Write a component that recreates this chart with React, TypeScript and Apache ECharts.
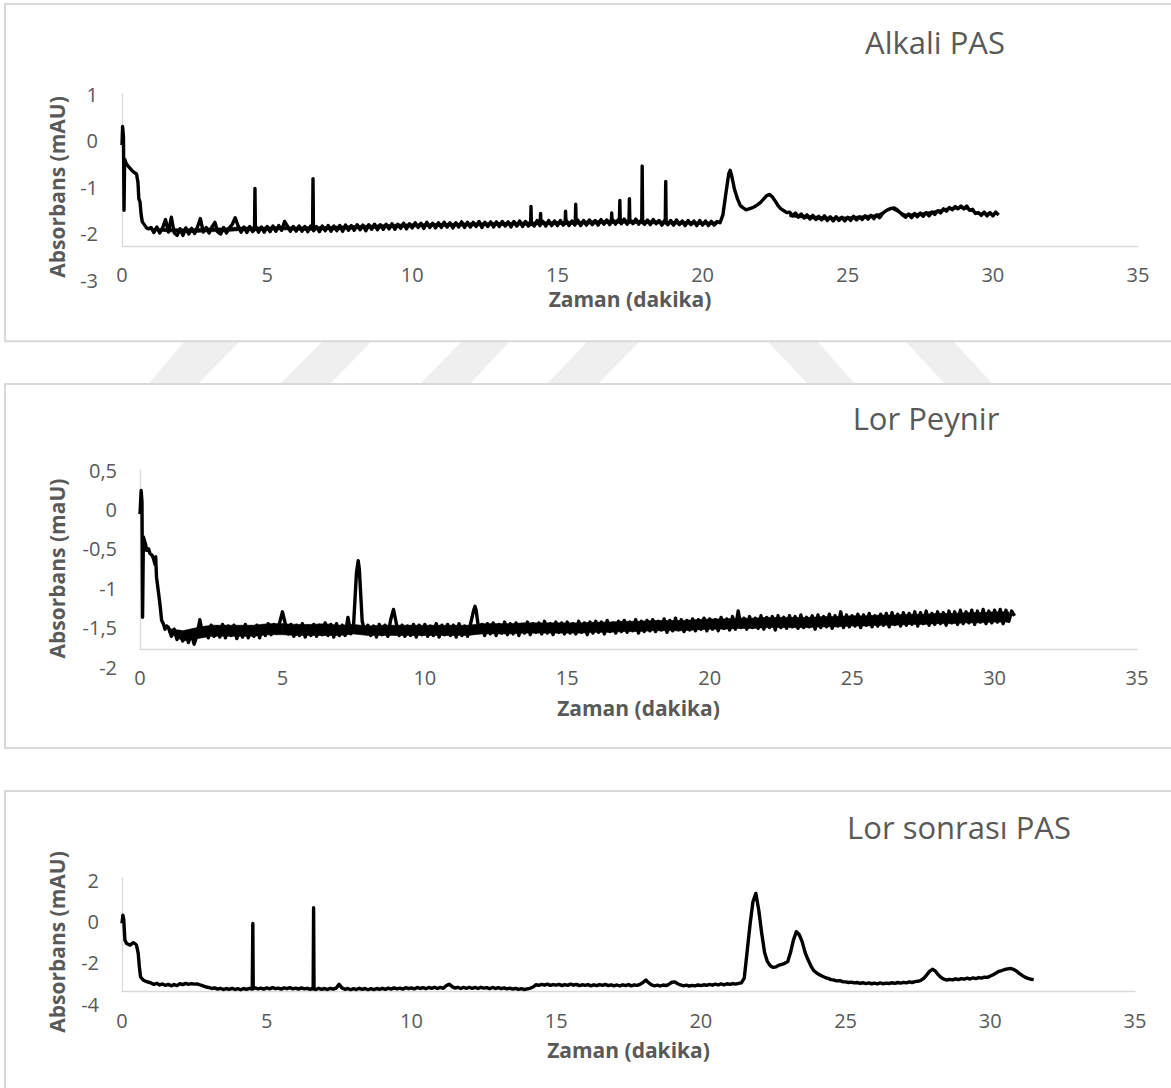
import React, { useEffect, useRef } from "react";
import * as echarts from "echarts";

const FONT = '"Open Sans", "DejaVu Sans", sans-serif';
const GRAY = "#595959";
const LINE_GRAY = "#d9d9d9";

// ---------- shared axis data ----------
const timeMin = 0;
const timeMax = 35;
const timeInterval = 5;
const sampleStep = 0.1; // min between regular samples
const baseStartTime = 1.0;
const bandStep = 0.5; // min between noise-envelope samples

const titles = ["Alkali PAS", "Lor Peynir", "Lor sonrası PAS"];
const xName = "Zaman (dakika)";
const yNames = ["Absorbans (mAU)", "Absorbans (maU)", "Absorbans (mAU)"];
const yMins = [-3, -2, -4];
const yMaxs = [1, 0.5, 2];
const yIntervals = [1, 0.5, 2];

// ---------- Alkali PAS ----------
const alkaliStart: [number, number][] = [
  [0, -0.1], [0.02, 0.3], [0.05, 0.1], [0.07, -1.5], [0.09, -0.4], [0.15, -0.5],
  [0.25, -0.58], [0.35, -0.65], [0.45, -0.7], [0.5, -0.72], [0.55, -0.9], [0.58, -1.25],
  [0.62, -1.32], [0.66, -1.6], [0.7, -1.75], [0.78, -1.82], [0.85, -1.88], [0.92, -1.9],
];
const alkaliBase: number[] = [
  -1.87, -1.98, -1.86, -1.99, -1.88, -1.70, -1.97, -1.65, -1.99, -2.04,
  -1.90, -2.04, -1.88, -2.01, -1.89, -2.00, -1.86, -1.68, -1.97, -1.87,
  -1.99, -1.86, -1.76, -1.97, -2.01, -1.87, -1.99, -1.88, -1.80, -1.66,
  -1.84, -1.97, -1.86, -1.98, -1.85, -1.96, -1.84, -1.97, -1.86, -1.97,
  -1.85, -1.96, -1.84, -1.95, -1.83, -1.93, -1.74, -1.84, -1.95, -1.85,
  -1.95, -1.84, -1.95, -1.85, -1.96, -1.84, -1.94, -1.85, -1.96, -1.84,
  -1.94, -1.83, -1.95, -1.84, -1.94, -1.83, -1.95, -1.82, -1.93, -1.83,
  -1.93, -1.81, -1.92, -1.82, -1.94, -1.81, -1.91, -1.80, -1.92, -1.81,
  -1.91, -1.80, -1.90, -1.79, -1.91, -1.80, -1.89, -1.78, -1.90, -1.79,
  -1.88, -1.77, -1.87, -1.78, -1.89, -1.76, -1.87, -1.78, -1.88, -1.77,
  -1.87, -1.76, -1.86, -1.77, -1.88, -1.77, -1.86, -1.75, -1.87, -1.76,
  -1.86, -1.76, -1.85, -1.74, -1.87, -1.76, -1.85, -1.75, -1.86, -1.75,
  -1.85, -1.74, -1.84, -1.75, -1.86, -1.74, -1.84, -1.73, -1.85, -1.74,
  -1.84, -1.73, -1.84, -1.72, -1.83, -1.74, -1.84, -1.72, -1.83, -1.73,
  -1.83, -1.72, -1.82, -1.71, -1.83, -1.73, -1.82, -1.71, -1.83, -1.72,
  -1.82, -1.71, -1.81, -1.72, -1.82, -1.70, -1.80, -1.71, -1.81, -1.70,
  -1.80, -1.70, -1.79, -1.69, -1.80, -1.71, -1.79, -1.69, -1.80, -1.70,
  -1.80, -1.71, -1.81, -1.70, -1.79, -1.72, -1.82, -1.71, -1.81, -1.72,
  -1.82, -1.71, -1.81, -1.73, -1.83, -1.72, -1.81, -1.73, -1.83, -1.72,
  -1.82, -1.73, -1.83, -1.74, -1.82, -1.74, -1.77, -1.60, -1.15, -0.72,
  -0.75, -1.05, -1.25, -1.40, -1.45, -1.49, -1.47, -1.45, -1.42, -1.38,
  -1.33, -1.26, -1.19, -1.16, -1.21, -1.30, -1.40, -1.47, -1.51, -1.55,
  -1.54, -1.62, -1.56, -1.65, -1.58, -1.67, -1.60, -1.69, -1.61, -1.70,
  -1.63, -1.71, -1.62, -1.72, -1.64, -1.73, -1.64, -1.72, -1.65, -1.73,
  -1.65, -1.72, -1.63, -1.71, -1.64, -1.70, -1.62, -1.69, -1.61, -1.68,
  -1.60, -1.66, -1.57, -1.52, -1.48, -1.46, -1.45, -1.49, -1.55, -1.61,
  -1.65, -1.58, -1.66, -1.57, -1.64, -1.56, -1.63, -1.55, -1.62, -1.54,
  -1.59, -1.51, -1.56, -1.47, -1.52, -1.44, -1.49, -1.42, -1.47, -1.41,
  -1.47, -1.41, -1.50, -1.48, -1.57, -1.55, -1.61, -1.54, -1.62, -1.55,
  -1.62, -1.54, -1.60,
];
const alkaliSpikes: [number, number][] = [
  [4.565, -1.91], [4.58, -1.03], [4.595, -1.9],
  [6.565, -1.9], [6.58, -0.82], [6.595, -1.9],
  [14.075, -1.8], [14.09, -1.42], [14.105, -1.79],
  [14.405, -1.79], [14.42, -1.57], [14.435, -1.78],
  [15.265, -1.78], [15.28, -1.52], [15.295, -1.78],
  [15.615, -1.78], [15.63, -1.37], [15.645, -1.77],
  [16.855, -1.76], [16.87, -1.56], [16.885, -1.75],
  [17.135, -1.75], [17.15, -1.29], [17.165, -1.74],
  [17.465, -1.74], [17.48, -1.25], [17.495, -1.74],
  [17.905, -1.76], [17.92, -0.55], [17.935, -1.76],
  [18.715, -1.77], [18.73, -0.88], [18.745, -1.77],
  [20.95, -0.64],
];
// noise band of the Alkali PAS baseline (every 0.5 min from 1.0; null = no band)
const alkaliBandLow: (number | null)[] = [
  -1.93, -1.96, -1.97, -1.98, -1.96, -1.96, -1.94, -1.94, -1.93, -1.92,
  -1.93, -1.93, -1.92, -1.92, -1.90, -1.89, -1.88, -1.87, -1.86, -1.85,
  -1.85, -1.84, -1.84, -1.83, -1.83, -1.82, -1.82, -1.81, -1.81, -1.80,
  -1.80, -1.79, -1.78, -1.78, -1.79, -1.79, -1.80, -1.80, -1.81, -1.81,
  null, null, null, null,
  -1.64, -1.67, -1.70, -1.71, -1.70, -1.68, -1.64, -1.48, -1.63, -1.62,
  -1.56, -1.49, -1.46, -1.59, -1.60,
];
const alkaliBandHigh: (number | null)[] = [
  -1.89, -1.89, -1.90, -1.90, -1.88, -1.88, -1.86, -1.86, -1.86, -1.85,
  -1.86, -1.85, -1.85, -1.84, -1.83, -1.82, -1.81, -1.80, -1.79, -1.79,
  -1.78, -1.78, -1.77, -1.77, -1.76, -1.76, -1.75, -1.75, -1.74, -1.74,
  -1.73, -1.72, -1.71, -1.71, -1.72, -1.73, -1.74, -1.74, -1.75, -1.75,
  null, null, null, null,
  -1.57, -1.60, -1.63, -1.65, -1.64, -1.62, -1.59, -1.45, -1.58, -1.56,
  -1.51, -1.44, -1.42, -1.55, -1.56,
];

// ---------- Lor Peynir ----------
const lorStart: [number, number][] = [
  [0, -0.06], [0.04, 0.24], [0.07, 0.1], [0.09, -1.37], [0.12, -0.35], [0.2, -0.45],
  [0.23, -0.52], [0.3, -0.5], [0.35, -0.56], [0.42, -0.58], [0.47, -0.62], [0.53, -0.7],
  [0.55, -0.6], [0.58, -0.86], [0.64, -1.03], [0.7, -1.2], [0.76, -1.41], [0.82, -1.45],
  [0.88, -1.52], [0.94, -1.48],
];
const lorBase: number[] = [
  -1.50, -1.61, -1.52, -1.65, -1.55, -1.67, -1.56, -1.69, -1.58, -1.71,
  -1.60, -1.40, -1.58, -1.50, -1.63, -1.47, -1.61, -1.49, -1.62, -1.46,
  -1.63, -1.48, -1.60, -1.47, -1.64, -1.50, -1.62, -1.46, -1.63, -1.49,
  -1.61, -1.47, -1.63, -1.48, -1.60, -1.45, -1.59, -1.46, -1.57, -1.44,
  -1.30, -1.45, -1.58, -1.46, -1.61, -1.47, -1.60, -1.45, -1.62, -1.48,
  -1.60, -1.46, -1.61, -1.47, -1.59, -1.44, -1.60, -1.46, -1.62, -1.45,
  -1.60, -1.47, -1.60, -1.37, -1.58, -1.45, -0.80, -0.76, -1.42, -1.56,
  -1.47, -1.60, -1.48, -1.62, -1.46, -1.59, -1.47, -1.61, -1.40, -1.27,
  -1.45, -1.60, -1.47, -1.61, -1.48, -1.60, -1.46, -1.62, -1.47, -1.59,
  -1.46, -1.61, -1.48, -1.60, -1.45, -1.62, -1.47, -1.59, -1.46, -1.60,
  -1.47, -1.62, -1.45, -1.60, -1.48, -1.61, -1.46, -1.30, -1.28, -1.55,
  -1.46, -1.60, -1.45, -1.58, -1.44, -1.60, -1.46, -1.57, -1.43, -1.59,
  -1.45, -1.58, -1.44, -1.60, -1.46, -1.57, -1.43, -1.59, -1.45, -1.56,
  -1.44, -1.58, -1.42, -1.57, -1.45, -1.59, -1.43, -1.56, -1.44, -1.58,
  -1.43, -1.57, -1.45, -1.58, -1.42, -1.56, -1.44, -1.59, -1.43, -1.57,
  -1.42, -1.56, -1.43, -1.58, -1.41, -1.55, -1.44, -1.57, -1.42, -1.55,
  -1.41, -1.56, -1.43, -1.54, -1.40, -1.57, -1.42, -1.55, -1.41, -1.54,
  -1.40, -1.55, -1.42, -1.53, -1.39, -1.56, -1.41, -1.54, -1.38, -1.53,
  -1.40, -1.55, -1.41, -1.53, -1.39, -1.54, -1.40, -1.52, -1.38, -1.54,
  -1.39, -1.52, -1.40, -1.54, -1.37, -1.51, -1.39, -1.53, -1.36, -1.52,
  -1.29, -1.50, -1.38, -1.52, -1.36, -1.50, -1.38, -1.51, -1.35, -1.52,
  -1.37, -1.50, -1.36, -1.53, -1.35, -1.50, -1.37, -1.51, -1.35, -1.49,
  -1.36, -1.51, -1.34, -1.50, -1.37, -1.49, -1.35, -1.52, -1.34, -1.50,
  -1.36, -1.49, -1.33, -1.51, -1.35, -1.48, -1.30, -1.50, -1.34, -1.49,
  -1.35, -1.48, -1.33, -1.50, -1.34, -1.47, -1.32, -1.49, -1.35, -1.48,
  -1.33, -1.47, -1.32, -1.49, -1.31, -1.46, -1.33, -1.48, -1.31, -1.47,
  -1.32, -1.46, -1.30, -1.48, -1.31, -1.45, -1.29, -1.47, -1.32, -1.46,
  -1.30, -1.45, -1.31, -1.47, -1.29, -1.44, -1.30, -1.46, -1.28, -1.45,
  -1.30, -1.44, -1.28, -1.46, -1.29, -1.43, -1.27, -1.45, -1.29, -1.44,
  -1.28, -1.43, -1.27, -1.45, -1.28, -1.42, -1.29, -1.35,
];
const lorSpikes: [number, number][] = [
  [7.66, -0.65], [11.76, -1.23],
];
// dense noise band of the Lor Peynir trace (lower / upper edge, every 0.5 min from 1.0)
const lorBandLow: (number | null)[] = [
  -1.56, -1.67, -1.64, -1.61, -1.61, -1.61, -1.61, -1.59, -1.59, -1.60,
  -1.60, -1.60, -1.60, -1.58, -1.60, -1.60, -1.60, -1.60, -1.60, -1.60,
  -1.60, -1.60, -1.58, -1.58, -1.58, -1.57, -1.57, -1.57, -1.57, -1.57,
  -1.56, -1.56, -1.55, -1.55, -1.54, -1.54, -1.54, -1.53, -1.52, -1.52,
  -1.51, -1.51, -1.50, -1.50, -1.50, -1.50, -1.49, -1.49, -1.48, -1.48,
  -1.47, -1.47, -1.46, -1.46, -1.45, -1.45, -1.44, -1.44, -1.43, -1.43,
];
const lorBandHigh: (number | null)[] = [
  -1.51, -1.54, -1.50, -1.47, -1.47, -1.47, -1.47, -1.45, -1.45, -1.46,
  -1.46, -1.45, -1.47, -1.46, -1.48, -1.47, -1.47, -1.47, -1.47, -1.47,
  -1.47, -1.47, -1.45, -1.45, -1.45, -1.44, -1.44, -1.44, -1.44, -1.44,
  -1.43, -1.43, -1.42, -1.42, -1.41, -1.41, -1.41, -1.40, -1.39, -1.39,
  -1.38, -1.38, -1.37, -1.37, -1.37, -1.37, -1.36, -1.36, -1.35, -1.35,
  -1.34, -1.34, -1.33, -1.33, -1.32, -1.32, -1.31, -1.31, -1.30, -1.30,
];

// ---------- Lor sonrası PAS ----------
const afterStart: [number, number][] = [
  [0, -0.1], [0.03, 0.3], [0.06, 0.1], [0.1, -0.9], [0.16, -1.07], [0.28, -1.15],
  [0.39, -1.03], [0.45, -1.08], [0.5, -1.15], [0.56, -1.55], [0.6, -2.2], [0.64, -2.68],
  [0.73, -2.84], [0.85, -2.92], [0.95, -2.96],
];
const afterBase: number[] = [
  -2.98, -3.05, -3.00, -3.08, -3.03, -3.10, -3.05, -3.12, -3.06, -3.11,
  -3.02, -3.06, -3.00, -3.05, -3.01, -3.04, -3.03, -3.08, -3.12, -3.18,
  -3.20, -3.25, -3.22, -3.28, -3.24, -3.30, -3.25, -3.29, -3.24, -3.30,
  -3.26, -3.31, -3.25, -3.29, -3.24, -3.28, -3.22, -3.27, -3.23, -3.28,
  -3.22, -3.27, -3.21, -3.26, -3.23, -3.28, -3.22, -3.26, -3.21, -3.27,
  -3.23, -3.28, -3.22, -3.27, -3.24, -3.29, -3.23, -3.30, -3.24, -3.29,
  -3.25, -3.30, -3.24, -3.28, -3.23, -3.05, -3.22, -3.29, -3.25, -3.31,
  -3.26, -3.30, -3.24, -3.29, -3.25, -3.31, -3.26, -3.30, -3.25, -3.29,
  -3.24, -3.29, -3.23, -3.28, -3.22, -3.27, -3.23, -3.28, -3.21, -3.26,
  -3.22, -3.27, -3.20, -3.25, -3.21, -3.26, -3.20, -3.24, -3.19, -3.25,
  -3.20, -3.24, -3.12, -3.04, -3.15, -3.23, -3.19, -3.25, -3.20, -3.24,
  -3.19, -3.24, -3.20, -3.25, -3.19, -3.23, -3.21, -3.26, -3.20, -3.25,
  -3.21, -3.26, -3.22, -3.27, -3.23, -3.28, -3.24, -3.29, -3.26, -3.30,
  -3.27, -3.24, -3.18, -3.07, -3.10, -3.05, -3.09, -3.04, -3.10, -3.06,
  -3.09, -3.05, -3.11, -3.06, -3.10, -3.04, -3.09, -3.05, -3.11, -3.07,
  -3.10, -3.06, -3.12, -3.07, -3.11, -3.06, -3.10, -3.05, -3.11, -3.07,
  -3.12, -3.08, -3.13, -3.07, -3.11, -3.06, -3.12, -3.08, -3.10, -3.05,
  -2.96, -2.84, -2.98, -3.08, -3.12, -3.09, -3.13, -3.08, -3.11, -3.04,
  -2.95, -2.93, -3.02, -3.08, -3.12, -3.09, -3.13, -3.10, -3.12, -3.08,
  -3.11, -3.07, -3.10, -3.05, -3.09, -3.04, -3.08, -3.03, -3.07, -3.02,
  -3.05, -3.01, -3.04, -3.00, -2.98, -2.75, -1.45, -0.15, 0.95, 1.35,
  0.55, -0.55, -1.50, -1.95, -2.15, -2.23, -2.20, -2.12, -2.08, -2.03,
  -1.95, -1.50, -0.90, -0.50, -0.65, -0.98, -1.50, -1.85, -2.15, -2.38,
  -2.50, -2.58, -2.66, -2.72, -2.76, -2.82, -2.84, -2.88, -2.87, -2.92,
  -2.93, -2.96, -2.94, -2.98, -2.96, -3.00, -2.97, -3.01, -2.98, -3.02,
  -2.99, -3.03, -2.98, -3.02, -2.99, -3.01, -2.97, -3.00, -2.96, -2.99,
  -2.95, -2.98, -2.93, -2.96, -2.92, -2.90, -2.86, -2.76, -2.60, -2.42,
  -2.32, -2.40, -2.58, -2.72, -2.80, -2.84, -2.81, -2.83, -2.78, -2.82,
  -2.77, -2.80, -2.75, -2.79, -2.74, -2.77, -2.72, -2.75, -2.70, -2.71,
  -2.65, -2.58, -2.50, -2.42, -2.38, -2.33, -2.30, -2.28, -2.32, -2.40,
  -2.52, -2.62, -2.70, -2.76, -2.80, -2.82,
];
const afterSpikes: [number, number][] = [
  [4.505, -3.25], [4.52, -0.1], [4.535, -3.26],
  [6.605, -3.27], [6.62, 0.66], [6.635, -3.27],
];

const roundT = (t: number) => Math.round(t * 1000) / 1000;

function buildTrace(start: [number, number][], base: number[], spikes: [number, number][]) {
  const pts: [number, number][] = [
    ...start,
    ...base.map((v, i) => [roundT(baseStartTime + i * sampleStep), v] as [number, number]),
    ...spikes,
  ];
  pts.sort((a, b) => a[0] - b[0]);
  return pts;
}

const traces = [
  buildTrace(alkaliStart, alkaliBase, alkaliSpikes),
  buildTrace(lorStart, lorBase, lorSpikes),
  buildTrace(afterStart, afterBase, afterSpikes),
];

// ---------- layout (pixels) ----------
const layout = [
  { left: 122, top: 94, width: 1016, height: 186, axisTop: 94, axisH: 152, xMargin: -13.5, xGap: 10, yGap: 55, yMargin: 24, lw: 3.4, title: [935, 42], box: [5, 4, 1200, 337.3] },
  { left: 140, top: 470, width: 997, height: 197, axisTop: 470, axisH: 179, xMargin: 2.5, xGap: 31.5, yGap: 73, yMargin: 23, lw: 3.4, title: [926, 418], box: [5, 384, 1200, 364] },
  { left: 122, top: 880, width: 1013, height: 124, axisTop: 878, axisH: 113, xMargin: 8, xGap: 37, yGap: 55, yMargin: 23, lw: 3.4, title: [959, 827], box: [5, 791, 1200, 400] },
];

const watermark: number[][][] = [
  [[185, 341], [240, 341], [198, 384], [148, 384]],
  [[323, 341], [372, 341], [330, 384], [280, 384]],
  [[462, 341], [510, 341], [470, 384], [420, 384]],
  [[588, 341], [640, 341], [598, 384], [547, 384]],
  [[767, 341], [817, 341], [855, 384], [808, 384]],
  [[905, 341], [953, 341], [993, 384], [945, 384]],
];

function bandSeries(name: string, axisIndex: number, low: (number | null)[], high: (number | null)[]) {
  const data = low.map((l, i) => [roundT(baseStartTime + i * bandStep), l, high[i]]);
  return {
    type: "custom", name, xAxisIndex: axisIndex, yAxisIndex: axisIndex, silent: true, z: 4,
    data: data.map((d) => (d[1] == null ? [d[0], "-", "-"] : d)),
    encode: { x: 0, y: [1, 2] },
    renderItem: (params: any, api: any) => {
      const i = params.dataIndex;
      if (i >= data.length - 1) return null;
      const a = data[i];
      const b = data[i + 1];
      if (a[1] == null || b[1] == null) return null;
      const pts = [
        api.coord([a[0], a[1]]),
        api.coord([a[0], a[2]]),
        api.coord([b[0], b[2]]),
        api.coord([b[0], b[1]]),
      ];
      return {
        type: "polygon",
        shape: { points: pts },
        style: { fill: "#000000", stroke: "#000000", lineWidth: 0.6 },
      };
    },
  };
}

function buildOption() {
  const grid: any[] = [];
  const xAxis: any[] = [];
  const yAxis: any[] = [];
  const series: any[] = [];
  const graphic: any[] = [];

  watermark.forEach((pts) => {
    graphic.push({ type: "polygon", z: -5, silent: true, shape: { points: pts }, style: { fill: "#efefef" } });
  });

  layout.forEach((L, i) => {
    graphic.push({
      type: "rect", z: -4, silent: true,
      shape: { x: L.box[0], y: L.box[1], width: L.box[2], height: L.box[3] },
      style: { fill: "none", stroke: LINE_GRAY, lineWidth: 2 },
    });
    graphic.push({
      type: "text", z: 3, silent: true, x: L.title[0], y: L.title[1],
      style: { text: titles[i], fontSize: 31, fontFamily: FONT, fill: GRAY, align: "center", verticalAlign: "middle" },
    });

    grid.push({ left: L.left, top: L.top, width: L.width, height: L.height, containLabel: false, outerBoundsMode: "none" });
    grid.push({ left: L.left, top: L.axisTop, width: L.width, height: L.axisH, containLabel: false, outerBoundsMode: "none" });

    const gi = 2 * i;
    xAxis.push({
      gridIndex: gi, type: "value", min: timeMin, max: timeMax, interval: timeInterval,
      axisLine: { show: false, onZero: false }, axisTick: { show: false }, splitLine: { show: false },
      axisLabel: { color: GRAY, fontSize: 20, lineHeight: 16, fontFamily: FONT, margin: L.xMargin },
      name: xName, nameLocation: "middle", nameGap: L.xGap, nameMoveOverlap: false,
      nameTextStyle: { color: GRAY, fontSize: 21, lineHeight: 18, fontWeight: "bold", fontFamily: FONT },
    });
    yAxis.push({
      gridIndex: gi, type: "value", min: yMins[i], max: yMaxs[i], interval: yIntervals[i],
      axisLine: { show: false, onZero: false }, axisTick: { show: false }, splitLine: { show: false },
      axisLabel: {
        color: GRAY, fontSize: 20, fontFamily: FONT, margin: L.yMargin,
        formatter: (v: number) => String(v).replace(".", ","),
      },
      name: yNames[i], nameLocation: "middle", nameGap: L.yGap, nameMoveOverlap: false,
      nameTextStyle: { color: GRAY, fontSize: 21, fontWeight: "bold", fontFamily: FONT },
    });
    const lineAxis = {
      type: "value", min: 0, max: 1,
      axisLine: { show: true, onZero: false, lineStyle: { color: LINE_GRAY, width: 1.3 } },
      axisTick: { show: false }, axisLabel: { show: false }, splitLine: { show: false },
    };
    xAxis.push({ ...lineAxis, gridIndex: gi + 1 });
    yAxis.push({ ...lineAxis, gridIndex: gi + 1 });

    series.push({
      type: "line", name: titles[i], xAxisIndex: gi, yAxisIndex: gi,
      data: traces[i], showSymbol: false, symbol: "none", silent: true,
      lineStyle: { color: "#000000", width: L.lw, join: "round" },
      z: 5,
    });
  });

  series.push(bandSeries("alkaliBand", 0, alkaliBandLow, alkaliBandHigh));
  series.push(bandSeries("lorBand", 2, lorBandLow, lorBandHigh));

  return {
    animation: false,
    backgroundColor: "#ffffff",
    textStyle: { fontFamily: FONT },
    grid, xAxis, yAxis, series, graphic,
  };
}

export default function App() {
  const ref = useRef<HTMLDivElement>(null);
  useEffect(() => {
    if (!ref.current) return;
    const chart = echarts.init(ref.current, null, { renderer: "svg" });
    chart.setOption(buildOption() as any);
    return () => chart.dispose();
  }, []);
  return (
    <div
      ref={ref}
      style={{ position: "absolute", left: 0, top: 0, width: 1171, height: 1088, background: "#fff" }}
    />
  );
}
